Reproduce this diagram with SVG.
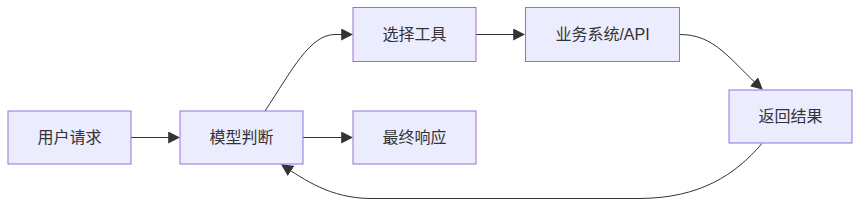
<svg xmlns="http://www.w3.org/2000/svg" width="868" height="209" viewBox="0 0 868 209">
<style>
.node rect{fill:#ECECFF;stroke:#9370DB;stroke-width:1px;}
.node text{fill:#333333;font-family:"Liberation Sans","Noto Sans CJK SC",sans-serif;font-size:16px;text-anchor:middle;dominant-baseline:central;}
.edge{fill:none;stroke:#333333;stroke-width:1px;}
</style>
<defs>
<marker id="arrow" viewBox="0 0 10 10" refX="9" refY="5" markerUnits="userSpaceOnUse" markerWidth="12" markerHeight="12" orient="auto">
<path d="M0,0 L10,5 L0,10 z" fill="#333333"/>
</marker>
</defs>
<rect width="868" height="209" fill="#ffffff"/>
<g id="connectors">
<path class="edge" d="M131,137.5 L179,137.5" marker-end="url(#arrow)"/>
<path class="edge" d="M265,111 C292,70 310,34.5 335,34.5 L352,34.5" marker-end="url(#arrow)"/>
<path class="edge" d="M303,137.5 L352,137.5" marker-end="url(#arrow)"/>
<path class="edge" d="M476,34.5 L524,34.5" marker-end="url(#arrow)"/>
<path class="edge" d="M679,34.5 C715,34 730,60 762,89" marker-end="url(#arrow)"/>
<path class="edge" d="M762,143.5 C735,175 700,198 640,198.5 L370,198.5 C330,198 305,180 282,165" marker-end="url(#arrow)"/>
</g>
<g id="node-user" class="node">
<rect x="8" y="111" width="123" height="53"/>
<text x="69.5" y="137.5">用户请求</text>
</g>
<g id="node-model" class="node">
<rect x="180" y="111" width="123" height="53"/>
<text x="241.5" y="137.5">模型判断</text>
</g>
<g id="node-tool" class="node">
<rect x="353" y="7.5" width="123" height="54"/>
<text x="414.5" y="34.5">选择工具</text>
</g>
<g id="node-api" class="node">
<rect x="525.5" y="7.5" width="154" height="54"/>
<text x="602.5" y="34.5">业务系统/API</text>
</g>
<g id="node-result" class="node">
<rect x="729" y="90" width="123" height="53"/>
<text x="790.5" y="116.5">返回结果</text>
</g>
<g id="node-final" class="node">
<rect x="353" y="111" width="123" height="53"/>
<text x="414.5" y="137.5">最终响应</text>
</g>
</svg>
